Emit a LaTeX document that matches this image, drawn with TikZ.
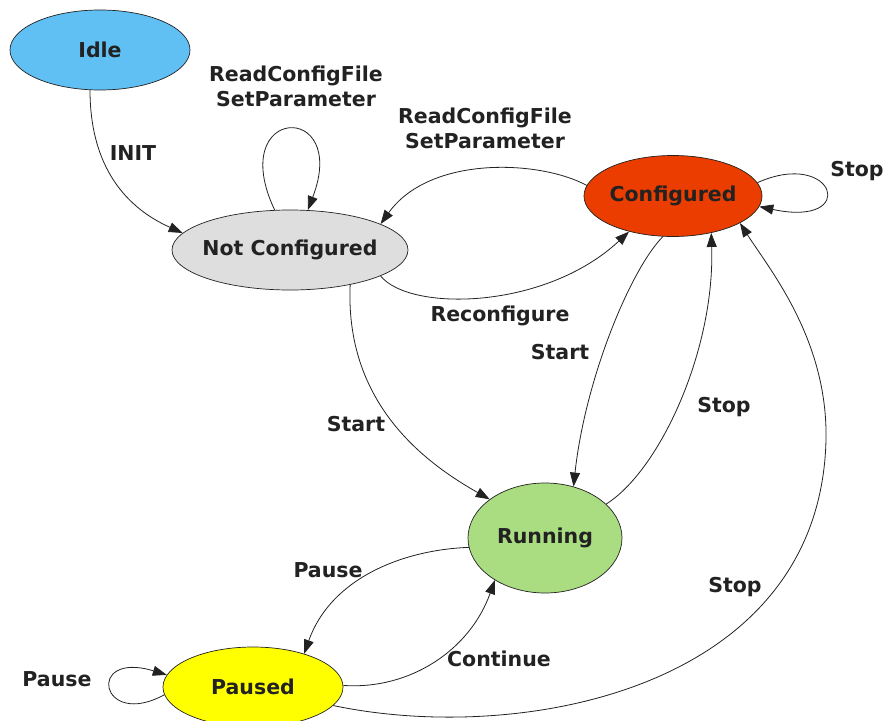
\documentclass[tikz,border=0pt]{standalone}
\usepackage{fontspec}
\setmainfont{DejaVu Sans}
\usetikzlibrary{shapes.geometric,arrows.meta}
\definecolor{idleblue}{HTML}{60C0F4}
\definecolor{notconfgray}{HTML}{DEDEDE}
\definecolor{confred}{HTML}{EB3D00}
\definecolor{rungreen}{HTML}{AADC82}
\definecolor{pauseyellow}{HTML}{FFFF00}
\definecolor{inkgray}{HTML}{222222}
\begin{document}
\begin{tikzpicture}[x=1pt,y=1pt,
    state/.style={ellipse,draw=inkgray,line width=0.7pt,inner sep=0pt,inner xsep=-12pt,
      font=\bfseries\fontsize{20.5}{25}\selectfont,text=inkgray},
    lbl/.style={inner sep=0pt,align=center,font=\bfseries\fontsize{20.5}{25}\selectfont,text=inkgray},
    trans/.style={draw=inkgray,line width=0.8pt,-{Triangle[length=14pt,width=10pt]}}]
  \useasboundingbox (0,0) rectangle (883,-720);
  \node[state,fill=idleblue,minimum width=180,minimum height=80] (idle) at (100,-50) {Idle};
  \node[state,fill=notconfgray,minimum width=236,minimum height=80] (nc) at (290,-250) {Not Configured};
  \node[state,fill=confred,minimum width=178,minimum height=81] (conf) at (673,-196) {Configured};
  \node[state,fill=rungreen,minimum width=154,minimum height=110] (run) at (545,-538) {Running};
  \node[state,fill=pauseyellow,minimum width=180,minimum height=80] (paused) at (253,-687) {Paused};

  \draw[trans] (idle.256) .. controls (90,-160) and (120,-205) .. (nc.171);
  \node[lbl] (linit) at (133,-153) {INIT};
  \draw[trans] (nc.111) .. controls (225,-105) and (350,-100) .. (nc.66);
  \node[lbl] (lncloop) at (296,-86) {ReadConfigFile\\SetParameter};
  \draw[trans] (conf.173) .. controls (540,-160) and (430,-155) .. (nc.16);
  \node[lbl] (lread) at (485,-128) {ReadConfigFile\\SetParameter};
  \draw[trans] (nc.344) .. controls (410,-312) and (545,-310) .. (conf.219);
  \node[lbl] (lreconf) at (500,-316) {Reconfigure};
  \draw[trans] (conf.9) .. controls (835,-148) and (860,-228) .. (conf.353);
  \node[lbl] (lconfloop) at (857,-171) {Stop};
  \draw[trans] (nc.330) .. controls (345,-400) and (420,-460) .. (run.145);
  \node[lbl] (lstarta) at (356,-424) {Start};
  \draw[trans] (conf.256) .. controls (630,-270) and (585,-380) .. (run.61);
  \node[lbl] (lstartb) at (560,-352) {Start};
  \draw[trans] (run.29) .. controls (660,-470) and (715,-350) .. (conf.316);
  \node[lbl] (lstopa) at (724,-407) {Stop};
  \draw[trans] (paused.347) .. controls (520,-745) and (820,-690) .. (826,-440)
    .. controls (828,-340) and (770,-270) .. (conf.338);
  \node[lbl] (lstopb) at (735,-587) {Stop};
  \draw[trans] (run.187) .. controls (400,-550) and (330,-580) .. (paused.33);
  \node[lbl] (lpause) at (328,-570) {Pause};
  \draw[trans] (paused.1) .. controls (410,-690) and (470,-650) .. (run.220);
  \node[lbl] (lcont) at (499,-659) {Continue};
  \draw[trans] (paused.185) .. controls (100,-730) and (85,-650) .. (paused.172);
  \node[lbl] (lpauseloop) at (57,-679) {Pause};
\end{tikzpicture}
\end{document}
